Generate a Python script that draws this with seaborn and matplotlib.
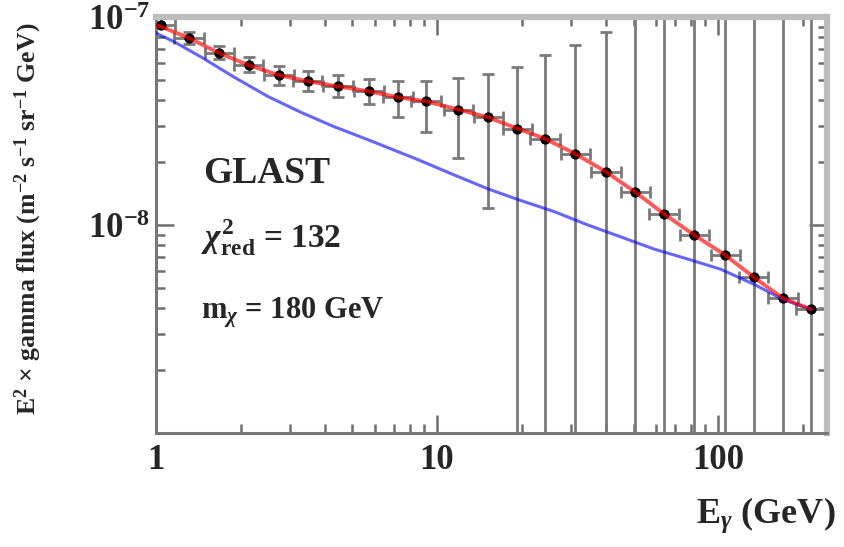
import numpy as np
import matplotlib
matplotlib.use("Agg")
import matplotlib.pyplot as plt
from matplotlib.ticker import FixedLocator, FixedFormatter, LogLocator, NullFormatter
import seaborn as sns

# GLAST data points (energy in GeV, E^2 x flux)
energy = [1.04, 1.31, 1.68, 2.14, 2.74, 3.47, 4.44, 5.73, 7.26, 9.14, 11.9, 15.2,
          19.3, 24.2, 31.0, 39.9, 50.7, 64.2, 82.2, 106, 134, 170, 214]
flux = [9.2e-8, 7.92e-8, 6.70e-8, 5.86e-8, 5.25e-8, 4.91e-8, 4.64e-8, 4.39e-8,
        4.11e-8, 3.93e-8, 3.59e-8, 3.29e-8, 2.91e-8, 2.60e-8, 2.20e-8, 1.80e-8,
        1.44e-8, 1.13e-8, 8.95e-9, 7.16e-9, 5.61e-9, 4.44e-9, 3.93e-9]
flux_hi = [9.89e-8, 8.47e-8, 7.24e-8, 6.41e-8, 5.80e-8, 5.48e-8, 5.25e-8, 5.02e-8,
           4.91e-8, 4.91e-8, 5.07e-8, 5.30e-8, 5.73e-8, 6.55e-8, 7.32e-8, 8.47e-8,
           1.0e-7, 2e-7, 2e-7, 2e-7, 2e-7, 2e-7, 2e-7]
flux_lo = [8.85e-8, 7.41e-8, 6.27e-8, 5.42e-8, 4.69e-8, 4.39e-8, 4.11e-8, 3.80e-8,
           3.32e-8, 2.81e-8, 2.11e-8, 1.21e-8, 5e-10, 5e-10, 5e-10, 5e-10,
           5e-10, 5e-10, 5e-10, 5e-10, 5e-10, 5e-10, 5e-10]
bin_half_dex = 0.052

# background + dark matter fit (red)
fit_energy = [1.0, 1.04, 1.31, 1.68, 2.14, 2.74, 3.47, 4.44, 5.73, 7.26, 9.14, 11.9,
              15.2, 19.3, 24.2, 31.0, 39.9, 50.7, 64.2, 82.2, 106, 134, 170, 214]
fit_flux = [9.1e-8, 9.0e-8, 7.92e-8, 6.70e-8, 5.86e-8, 5.25e-8, 4.91e-8, 4.64e-8,
            4.39e-8, 4.11e-8, 3.93e-8, 3.59e-8, 3.29e-8, 2.91e-8, 2.60e-8, 2.20e-8,
            1.80e-8, 1.44e-8, 1.13e-8, 8.95e-9, 7.16e-9, 5.61e-9, 4.44e-9, 3.93e-9]

# background only (blue)
bg_energy = [1.0, 1.16, 1.45, 1.90, 2.50, 3.28, 4.30, 5.68, 8.56, 11.5, 15.2, 19.9,
             26.1, 34.4, 45.2, 59.2, 78.2, 102, 134, 170, 214]
bg_flux = [8.37e-8, 7.6e-8, 6.41e-8, 5.13e-8, 4.15e-8, 3.48e-8, 2.97e-8, 2.57e-8,
           2.06e-8, 1.74e-8, 1.49e-8, 1.31e-8, 1.16e-8, 1.0e-8, 8.75e-9, 7.66e-9,
           6.85e-9, 6.13e-9, 5.19e-9, 4.39e-9, 3.93e-9]

sns.set_theme(style="ticks")
plt.rcParams["font.family"] = ["Liberation Serif", "DejaVu Serif"]
plt.rcParams["font.weight"] = "bold"
plt.rcParams["mathtext.fontset"] = "custom"
plt.rcParams["mathtext.rm"] = "Liberation Serif:bold"
plt.rcParams["mathtext.bf"] = "Liberation Serif:bold"
plt.rcParams["mathtext.it"] = "Liberation Serif:italic:bold"

fig = plt.figure(figsize=(8.44, 5.47), dpi=100)
ax = fig.add_axes([156 / 844, 1 - 433 / 547, (827 - 156) / 844, (433 - 17) / 547])

e = np.array(energy)
f = np.array(flux)
xerr = [e - e / 10 ** bin_half_dex, e * 10 ** bin_half_dex - e]
yerr = [f - np.array(flux_lo), np.array(flux_hi) - f]
ax.errorbar(e, f, xerr=xerr, yerr=yerr, fmt="none", ecolor="#7a7a7a",
            elinewidth=2, capsize=4.5, capthick=2, zorder=2)
sns.scatterplot(x=energy, y=flux, color="black", s=55, marker="o",
                linewidth=0, ax=ax, zorder=3)
sns.lineplot(x=bg_energy, y=bg_flux, color="blue", alpha=0.6, lw=2.2,
             estimator=None, sort=False, ax=ax, zorder=4)
sns.lineplot(x=fit_energy, y=fit_flux, color="red", alpha=0.65, lw=2.8,
             estimator=None, sort=False, ax=ax, zorder=5)

ax.set_xscale("log")
ax.set_yscale("log")
ax.set_xlim(1.0, 244)
ax.set_ylim(1e-9, 1e-7)

ax.xaxis.set_major_locator(FixedLocator([1, 10, 100]))
ax.xaxis.set_major_formatter(FixedFormatter(["1", "10", "100"]))
ax.xaxis.set_minor_locator(LogLocator(base=10, subs=np.arange(2, 10)))
ax.xaxis.set_minor_formatter(NullFormatter())
ax.yaxis.set_major_locator(FixedLocator([1e-8, 1e-7]))
ax.yaxis.set_major_formatter(FixedFormatter([r"$10^{-8}$", r"$10^{-7}$"]))
ax.yaxis.set_minor_locator(LogLocator(base=10, subs=np.arange(2, 10)))
ax.yaxis.set_minor_formatter(NullFormatter())

for s in ["left", "bottom"]:
    ax.spines[s].set_color("#777777")
    ax.spines[s].set_linewidth(2.2)
for s in ["top", "right"]:
    ax.spines[s].set_color("#bdbdbd")
    ax.spines[s].set_linewidth(4.5)

ax.tick_params(which="both", direction="in", top=True, right=True,
               color="#6e6e6e", width=1.8, labelsize=25)
ax.tick_params(which="major", length=13)
ax.tick_params(which="minor", length=6.5)
ax.tick_params(axis="x", pad=8)
ax.tick_params(axis="y", pad=4)

ax.text(0.07, 0.602, "GLAST", transform=ax.transAxes, fontsize=27,
        fontweight="bold", va="baseline")
ax.text(0.067, 0.444, r"$\chi^2_{\rm red}$ = 132", transform=ax.transAxes,
        fontsize=24, va="baseline")
ax.text(0.067, 0.276, r"m$_\chi$ = 180 GeV", transform=ax.transAxes,
        fontsize=22, va="baseline")

fig.text(836 / 844, 1 - 523 / 547, r"E$_\gamma$ (GeV)", fontsize=26,
         ha="right", va="baseline")
fig.text(28 / 844, 1 - 219 / 547,
         r"E$^2$ × gamma flux (m$^{-2}$ s$^{-1}$ sr$^{-1}$ GeV)",
         fontsize=18.5, rotation=90, ha="center", va="center")

fig.savefig("out.png", dpi=100)
